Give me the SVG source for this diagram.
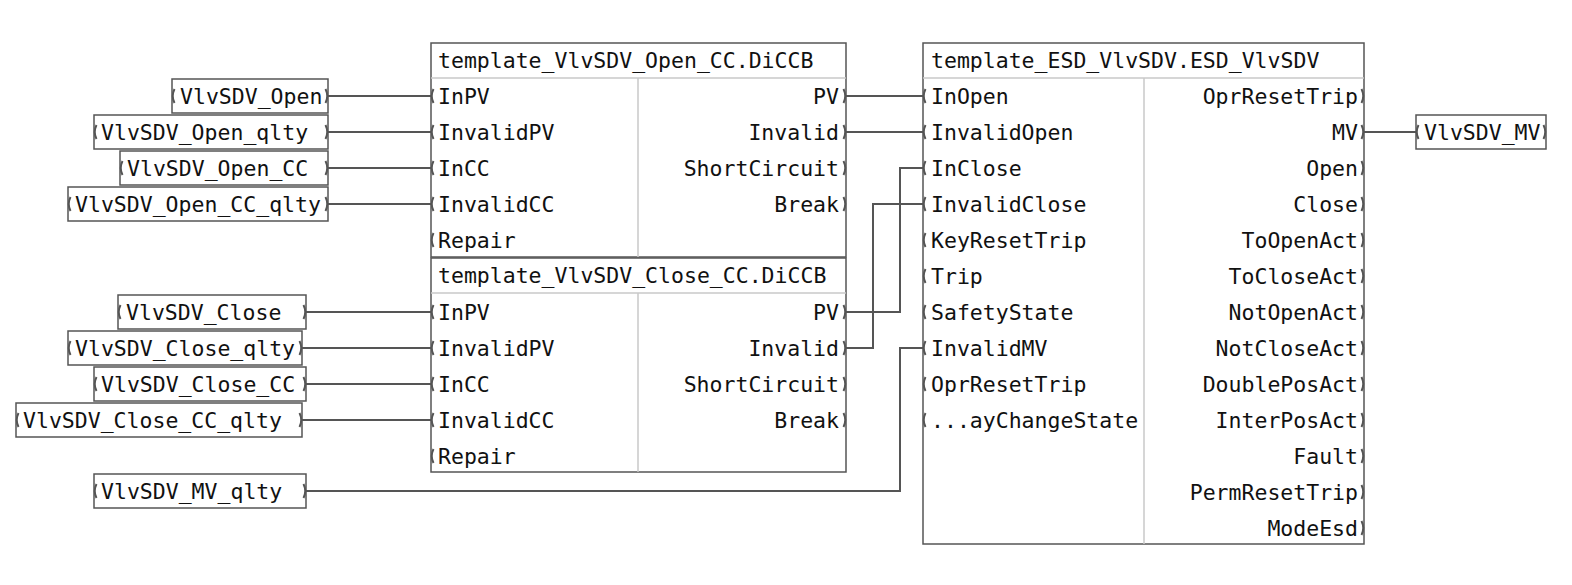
<svg xmlns="http://www.w3.org/2000/svg" width="1572" height="585" viewBox="0 0 1572 585">
<style>
text{font-family:"DejaVu Sans Mono","Liberation Mono",monospace;font-size:21.5px;fill:#111}
.r{text-anchor:end}
.box{fill:#fff;stroke:#555;stroke-width:1.5}
.div{stroke:#c8c8c8;stroke-width:1.5}
.w{fill:none;stroke:#555;stroke-width:2}
.pl{fill:none;stroke:#555;stroke-width:2}
</style>
<defs>
<path id="L" class="pl" d="M2.5,-7 Q-1,0 2.5,7"/>
<path id="R" class="pl" d="M-2.5,-7 Q1,0 -2.5,7"/>
</defs>
<rect width="1572" height="585" fill="#fff"/>
<g id="connectors">
<path class="w" d="M328,96H431M328,132H431M328,168H431M328,204H431"/>
<path class="w" d="M306,312H431M302,348H431M306,384H431M302,420H431"/>
<path class="w" d="M846,96H923M846,132H923M846,312H900V168H923M846,348H873V204H923M306,491H900V348H923M1364,132H1416"/>
</g>
<g id="tag_open"><rect class="box" x="172" y="79" width="156" height="34"/><text x="180" y="104">VlvSDV_Open</text><use href="#L" x="172" y="96"/><use href="#R" x="328" y="96"/></g>
<g id="tag_open_qlty"><rect class="box" x="94" y="115" width="234" height="34"/><text x="101" y="140">VlvSDV_Open_qlty</text><use href="#L" x="94" y="132"/><use href="#R" x="328" y="132"/></g>
<g id="tag_open_cc"><rect class="box" x="120" y="151" width="208" height="34"/><text x="127" y="176">VlvSDV_Open_CC</text><use href="#L" x="120" y="168"/><use href="#R" x="328" y="168"/></g>
<g id="tag_open_cc_qlty"><rect class="box" x="68" y="187" width="260" height="34"/><text x="75" y="212">VlvSDV_Open_CC_qlty</text><use href="#L" x="68" y="204"/><use href="#R" x="328" y="204"/></g>
<g id="tag_close"><rect class="box" x="118" y="295" width="188" height="34"/><text x="126" y="320">VlvSDV_Close</text><use href="#L" x="118" y="312"/><use href="#R" x="306" y="312"/></g>
<g id="tag_close_qlty"><rect class="box" x="68" y="331" width="234" height="34"/><text x="75" y="356">VlvSDV_Close_qlty</text><use href="#L" x="68" y="348"/><use href="#R" x="302" y="348"/></g>
<g id="tag_close_cc"><rect class="box" x="94" y="367" width="212" height="34"/><text x="101" y="392">VlvSDV_Close_CC</text><use href="#L" x="94" y="384"/><use href="#R" x="306" y="384"/></g>
<g id="tag_close_cc_qlty"><rect class="box" x="16" y="403" width="286" height="34"/><text x="23" y="428">VlvSDV_Close_CC_qlty</text><use href="#L" x="16" y="420"/><use href="#R" x="302" y="420"/></g>
<g id="tag_mv_qlty"><rect class="box" x="94" y="474" width="212" height="34"/><text x="101" y="499">VlvSDV_MV_qlty</text><use href="#L" x="94" y="491"/><use href="#R" x="306" y="491"/></g>
<g id="tag_mv"><rect class="box" x="1416" y="115" width="130" height="34"/><text x="1424" y="140">VlvSDV_MV</text><use href="#L" x="1416" y="132"/><use href="#R" x="1546" y="132"/></g>
<g id="block_open">
<rect class="box" x="431" y="43" width="415" height="214"/>
<line class="div" x1="431" y1="78" x2="846" y2="78"/><line class="div" x1="638" y1="78" x2="638" y2="257"/>
<text x="438" y="68">template_VlvSDV_Open_CC.DiCCB</text>
<text x="438" y="104">InPV</text><text x="438" y="140">InvalidPV</text><text x="438" y="176">InCC</text><text x="438" y="212">InvalidCC</text><text x="438" y="248">Repair</text>
<text class="r" x="839" y="104">PV</text><text class="r" x="839" y="140">Invalid</text><text class="r" x="839" y="176">ShortCircuit</text><text class="r" x="839" y="212">Break</text>
<use href="#L" x="431" y="96"/><use href="#L" x="431" y="132"/><use href="#L" x="431" y="168"/><use href="#L" x="431" y="204"/><use href="#L" x="431" y="240"/>
<use href="#R" x="846" y="96"/><use href="#R" x="846" y="132"/><use href="#R" x="846" y="168"/><use href="#R" x="846" y="204"/>
</g>
<g id="block_close">
<rect class="box" x="431" y="258" width="415" height="214"/>
<line class="div" x1="431" y1="293" x2="846" y2="293"/><line class="div" x1="638" y1="293" x2="638" y2="472"/>
<text x="438" y="283">template_VlvSDV_Close_CC.DiCCB</text>
<text x="438" y="320">InPV</text><text x="438" y="356">InvalidPV</text><text x="438" y="392">InCC</text><text x="438" y="428">InvalidCC</text><text x="438" y="464">Repair</text>
<text class="r" x="839" y="320">PV</text><text class="r" x="839" y="356">Invalid</text><text class="r" x="839" y="392">ShortCircuit</text><text class="r" x="839" y="428">Break</text>
<use href="#L" x="431" y="312"/><use href="#L" x="431" y="348"/><use href="#L" x="431" y="384"/><use href="#L" x="431" y="420"/><use href="#L" x="431" y="456"/>
<use href="#R" x="846" y="312"/><use href="#R" x="846" y="348"/><use href="#R" x="846" y="384"/><use href="#R" x="846" y="420"/>
</g>
<g id="block_esd">
<rect class="box" x="923" y="43" width="441" height="501"/>
<line class="div" x1="923" y1="78" x2="1364" y2="78"/><line class="div" x1="1144" y1="78" x2="1144" y2="544"/>
<text x="931" y="68">template_ESD_VlvSDV.ESD_VlvSDV</text>
<text x="931" y="104">InOpen</text><text x="931" y="140">InvalidOpen</text><text x="931" y="176">InClose</text><text x="931" y="212">InvalidClose</text><text x="931" y="248">KeyResetTrip</text><text x="931" y="284">Trip</text><text x="931" y="320">SafetyState</text><text x="931" y="356">InvalidMV</text><text x="931" y="392">OprResetTrip</text><text x="931" y="428">...ayChangeState</text>
<text class="r" x="1358" y="104">OprResetTrip</text><text class="r" x="1358" y="140">MV</text><text class="r" x="1358" y="176">Open</text><text class="r" x="1358" y="212">Close</text><text class="r" x="1358" y="248">ToOpenAct</text><text class="r" x="1358" y="284">ToCloseAct</text><text class="r" x="1358" y="320">NotOpenAct</text><text class="r" x="1358" y="356">NotCloseAct</text><text class="r" x="1358" y="392">DoublePosAct</text><text class="r" x="1358" y="428">InterPosAct</text><text class="r" x="1358" y="464">Fault</text><text class="r" x="1358" y="500">PermResetTrip</text><text class="r" x="1358" y="536">ModeEsd</text>
<use href="#L" x="923" y="96"/><use href="#L" x="923" y="132"/><use href="#L" x="923" y="168"/><use href="#L" x="923" y="204"/><use href="#L" x="923" y="240"/><use href="#L" x="923" y="276"/><use href="#L" x="923" y="312"/><use href="#L" x="923" y="348"/><use href="#L" x="923" y="384"/><use href="#L" x="923" y="420"/>
<use href="#R" x="1364" y="96"/><use href="#R" x="1364" y="132"/><use href="#R" x="1364" y="168"/><use href="#R" x="1364" y="204"/><use href="#R" x="1364" y="240"/><use href="#R" x="1364" y="276"/><use href="#R" x="1364" y="312"/><use href="#R" x="1364" y="348"/><use href="#R" x="1364" y="384"/><use href="#R" x="1364" y="420"/><use href="#R" x="1364" y="456"/><use href="#R" x="1364" y="492"/><use href="#R" x="1364" y="528"/>
</g>
</svg>
